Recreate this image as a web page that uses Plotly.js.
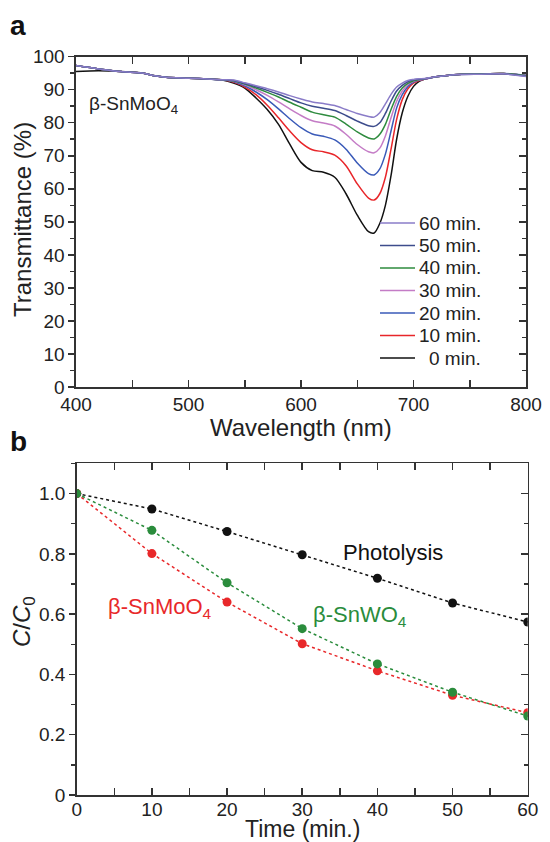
<!DOCTYPE html>
<html>
<head>
<meta charset="utf-8">
<script src="https://cdn.plot.ly/plotly-3.0.1.min.js"></script>
<style>html,body{margin:0;padding:0;background:#fff;}#chart{width:550px;height:842px;}</style>
</head>
<body>
<div id="chart"></div>
<script>
// ---- Panel a: transmittance spectra ----
const wavelength = [400,420,440,460,470,480,500,520,530,540,550,560,570,580,590,600,610,620,630,640,650,660,665,670,675,680,685,690,695,700,705,710,720,730,740,760,780,800];
const t0min  = [95.5,95.7,95.5,95.0,94.2,93.8,93.5,93.2,92.9,92.0,90.5,87.5,84.0,79.5,73.5,68.0,65.5,65.0,63.5,58.5,52.0,47.0,46.6,49.5,55.0,64.0,75.0,83.0,88.0,91.0,92.5,93.2,93.9,94.3,94.6,94.8,94.9,94.2];
const t10min = [97.3,96.3,95.5,95.0,94.2,93.8,93.5,93.2,93.0,92.3,90.8,88.5,85.3,81.5,77.5,74.0,71.8,71.2,70.2,67.0,61.5,57.2,56.6,58.5,63.5,72.0,81.0,87.0,90.3,92.0,92.8,93.2,93.9,94.3,94.6,94.8,94.9,94.3];
const t20min = [97.3,96.3,95.5,95.0,94.2,93.8,93.5,93.2,93.0,92.5,91.2,89.3,87.0,84.2,81.2,78.5,76.6,75.9,74.8,72.0,67.8,64.6,64.2,66.0,70.5,77.5,84.5,88.5,91.0,92.3,92.9,93.2,93.9,94.3,94.6,94.8,94.9,94.4];
const t30min = [97.3,96.3,95.5,95.0,94.2,93.8,93.5,93.2,93.0,92.6,91.5,90.0,88.3,86.3,84.2,82.2,80.6,79.9,79.0,76.5,73.4,71.2,70.9,72.3,76.0,81.5,86.5,89.6,91.5,92.5,93.0,93.2,93.9,94.3,94.6,94.8,94.9,94.3];
const t40min = [97.3,96.3,95.5,95.0,94.2,93.8,93.5,93.2,93.0,92.7,91.7,90.5,89.2,87.8,86.2,84.7,83.2,82.4,81.7,79.6,77.2,75.4,75.1,76.5,79.5,84.0,88.0,90.5,91.9,92.7,93.1,93.3,93.9,94.3,94.6,94.8,94.9,94.2];
const t50min = [97.3,96.3,95.5,95.0,94.2,93.8,93.5,93.2,93.0,92.8,91.9,90.9,89.8,88.6,87.3,86.0,85.0,84.4,83.7,82.2,80.5,79.1,78.9,80.0,82.8,86.5,89.6,91.3,92.4,93.0,93.2,93.3,93.9,94.3,94.6,94.7,94.8,94.1];
const t60min = [97.3,96.3,95.5,95.0,94.2,93.8,93.5,93.2,93.0,92.9,92.1,91.2,90.3,89.3,88.2,87.2,86.3,85.8,85.2,84.0,82.8,81.9,81.7,83.0,85.7,88.6,90.8,92.0,92.8,93.1,93.3,93.4,93.9,94.3,94.6,94.7,94.8,94.0];
const spectraNames = ["0 min.","10 min.","20 min.","30 min.","40 min.","50 min.","60 min."];
const spectraColors = ["#111111","#e8262a","#3a5ab8","#c47cc6","#2e8b3e","#3d4c8c","#8a7cc8"];
const spectra = [t0min,t10min,t20min,t30min,t40min,t50min,t60min];

// ---- Panel b: kinetics ----
const time = [0,10,20,30,40,50,60];
const photolysis = [1.0,0.949,0.874,0.797,0.719,0.637,0.574];
const snmoo4 = [1.0,0.801,0.640,0.502,0.412,0.331,0.273];
const snwo4 = [1.0,0.878,0.704,0.552,0.435,0.341,0.262];
const ratioTicks = [0,0.2,0.4,0.6,0.8,1.0];
const ratioTickText = ["0","0.2","0.4","0.6","0.8","1.0"];

const FONT = "Liberation Sans, Arial, sans-serif";
const AX = "#333333";
const W = 550, H = 842;
const traces = [];
spectra.forEach((s,i)=>{
  traces.push({type:"scatter",mode:"lines",x:wavelength,y:s,name:spectraNames[i],showlegend:false,
    line:{color:spectraColors[i],width:1.5,shape:"spline",smoothing:0.8},xaxis:"x",yaxis:"y"});
});
const kin = [[photolysis,"#111111","Photolysis"],[snmoo4,"#e8282a","β-SnMoO4"],[snwo4,"#2a8c3c","β-SnWO4"]];
kin.forEach(k=>{
  traces.push({type:"scatter",mode:"lines+markers",x:time,y:k[0],name:k[2],showlegend:false,
    line:{color:k[1],width:1.5,dash:"dot"},marker:{color:k[1],size:9},xaxis:"x2",yaxis:"y2"});
});
// invisible helpers carrying the right-side inner ticks
traces.push({type:"scatter",mode:"lines",x:[400],y:[0],showlegend:false,hoverinfo:"skip",line:{width:0},xaxis:"x",yaxis:"y3"});
traces.push({type:"scatter",mode:"lines",x:[0],y:[0],showlegend:false,hoverinfo:"skip",line:{width:0},xaxis:"x2",yaxis:"y4"});

const tickfont = {family:FONT,size:19,color:"#222"};
const titlefont = {family:FONT,size:24,color:"#222"};
function xax(domain, range, dtick, anchor){
  return {domain:domain,range:range,dtick:dtick,anchor:anchor,showline:true,linecolor:AX,linewidth:1.6,
    mirror:"allticks",ticks:"inside",ticklen:7,tickwidth:1.5,tickcolor:AX,showgrid:false,zeroline:false,
    tickfont:tickfont,minor:{dtick:dtick/2,ticks:"inside",ticklen:4,tickwidth:1.5,tickcolor:AX,showgrid:false}};
}
function yax(domain, range, dtick, anchor){
  return {domain:domain,range:range,dtick:dtick,anchor:anchor,showline:true,linecolor:AX,linewidth:1.6,
    mirror:true,ticks:"outside",ticklen:6,tickwidth:1.5,tickcolor:AX,showgrid:false,zeroline:false,
    tickfont:tickfont,minor:{dtick:dtick/2,ticks:"outside",ticklen:4,tickwidth:1.5,tickcolor:AX,showgrid:false}};
}
function yright(range,dtick,overlay,anchor){
  return {overlaying:overlay,anchor:anchor,side:"right",range:range,dtick:dtick,showline:false,ticks:"inside",
    ticklen:7,tickwidth:1.5,tickcolor:AX,showticklabels:false,showgrid:false,zeroline:false,
    minor:{dtick:dtick/2,ticks:"inside",ticklen:4,tickwidth:1.5,tickcolor:AX,showgrid:false}};
}
const yaxis2 = yax([0.0558,0.4496],[0,1.1],0.2,"x2");
yaxis2.tickmode = "array"; yaxis2.tickvals = ratioTicks; yaxis2.ticktext = ratioTickText;
const xaxis2 = xax([0.1395,0.9595],[0,60],10,"y2");
xaxis2.ticklabelstandoff = -3;

const annotations = [
  {text:"<b>a</b>",xref:"paper",yref:"paper",x:18/W,y:1-26/H,xanchor:"center",yanchor:"middle",showarrow:false,font:{family:FONT,size:28,color:"#111"}},
  {text:"<b>b</b>",xref:"paper",yref:"paper",x:18/W,y:1-441/H,xanchor:"center",yanchor:"middle",showarrow:false,font:{family:FONT,size:28,color:"#111"}},
  {text:"Wavelength (nm)",xref:"paper",yref:"paper",x:301/W,y:1-427/H,xanchor:"center",yanchor:"middle",showarrow:false,font:titlefont},
  {text:"Transmittance (%)",xref:"paper",yref:"paper",x:23/W,y:1-220/H,xanchor:"center",yanchor:"middle",textangle:-90,showarrow:false,font:titlefont},
  {text:"<i>C</i>/<i>C</i><sub>0</sub>",xref:"paper",yref:"paper",x:23/W,y:1-622/H,xanchor:"center",yanchor:"middle",textangle:-90,showarrow:false,font:titlefont},
  {text:"Time (min.)",xref:"paper",yref:"paper",x:302/W,y:1-829/H,xanchor:"center",yanchor:"middle",showarrow:false,font:{family:FONT,size:23,color:"#222"}},
  {text:"β-SnMoO<sub>4</sub>",xref:"x",yref:"y",x:451,y:85.4,xanchor:"center",yanchor:"middle",showarrow:false,font:{family:FONT,size:19,color:"#222"}},
  {text:"Photolysis",xref:"x2",yref:"y2",x:42.1,y:0.803,xanchor:"center",yanchor:"middle",showarrow:false,font:{family:FONT,size:22,color:"#111"}},
  {text:"β-SnMoO<sub>4</sub>",xref:"x2",yref:"y2",x:11.1,y:0.62,xanchor:"center",yanchor:"middle",showarrow:false,font:{family:FONT,size:22,color:"#e8282a"}},
  {text:"β-SnWO<sub>4</sub>",xref:"x2",yref:"y2",x:37.7,y:0.593,xanchor:"center",yanchor:"middle",showarrow:false,font:{family:FONT,size:22,color:"#2a8c3c"}}
];
// legend (right-aligned labels, as in the figure): 60 min. on top down to 0 min.
const shapes = [];
for (let i = 0; i < spectraNames.length; i++) {
  const ypx = 358 - i*22.5;
  shapes.push({type:"line",xref:"paper",yref:"paper",x0:380/W,x1:415/W,y0:1-ypx/H,y1:1-ypx/H,
    line:{color:spectraColors[i],width:1.5}});
  annotations.push({text:spectraNames[i],xref:"paper",yref:"paper",x:483/W,y:1-ypx/H,xanchor:"right",yanchor:"middle",
    showarrow:false,font:{family:FONT,size:19,color:"#222"}});
}

const layout = {
  width:W,height:H,margin:{l:0,r:0,t:0,b:0},paper_bgcolor:"#fff",plot_bgcolor:"#fff",
  font:{family:FONT,color:"#222"},showlegend:false,
  xaxis: xax([0.1382,0.9564],[400,800],100,"y"),
  yaxis: yax([0.5404,0.9327],[0,100],10,"x"),
  yaxis3: yright([0,100],10,"y","x"),
  xaxis2: xaxis2,
  yaxis2: yaxis2,
  yaxis4: yright([0,1.1],0.2,"y2","x2"),
  annotations: annotations,
  shapes: shapes
};
Plotly.newPlot("chart",traces,layout,{staticPlot:true,displayModeBar:false});
</script>
</body>
</html>
